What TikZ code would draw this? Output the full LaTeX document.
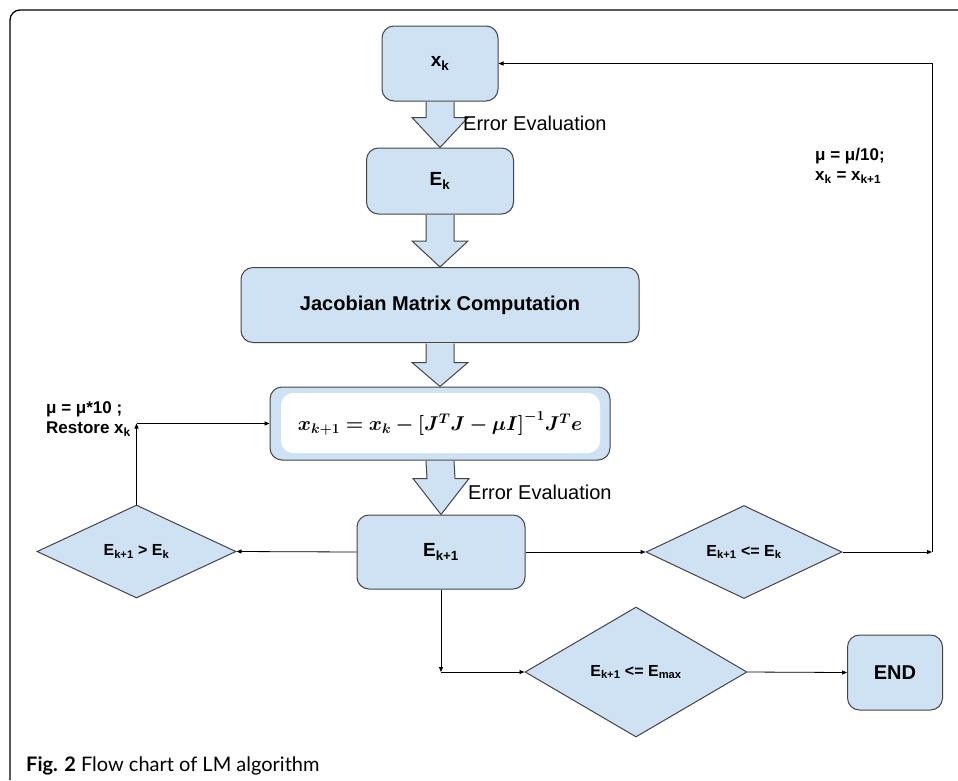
\documentclass[tikz,border=0pt]{standalone}
\usepackage{fontspec}
\usepackage{amsmath}
\usepackage{bm}
\usepackage{graphicx}
\usetikzlibrary{shapes.geometric,arrows.meta,calc}
\setmainfont{Liberation Sans}
\newfontfamily\capfont{Lato}
\definecolor{boxfill}{HTML}{CFE2F3}
\definecolor{boxline}{HTML}{444444}

\begin{document}
\begin{tikzpicture}[x=1pt,y=-1pt,
  box/.style={draw=boxline, fill=boxfill, line width=1pt, rounded corners=12pt, inner sep=0pt, font=\bfseries\fontsize{19}{23}\selectfont},
  decision/.style={diamond, draw=boxline, fill=boxfill, line width=1pt, inner sep=0pt, font=\bfseries\fontsize{16}{19}\selectfont},
  blockarrow/.style={draw=boxline, fill=boxfill, line width=1pt, line join=miter},
  link/.style={-{Triangle[length=5pt,width=4pt]}, line width=0.8pt},
  note/.style={font=\bfseries\fontsize{17}{20}\selectfont, align=left, inner sep=0pt},
  evallabel/.style={font=\fontsize{20}{24}\selectfont, anchor=west, inner sep=0pt}]

\useasboundingbox (0,0) rectangle (958,780);
\fill[white] (0,0) rectangle (958,780);

% frame of the figure
\draw[line width=1.3pt, rounded corners=10pt] (10,780) -- (10,10) -- (958,10);

% process boxes
\node[box, minimum width=116pt, minimum height=75pt] (xk) at (440,63.5) {x\textsubscript{k}};
\node[box, minimum width=147pt, minimum height=66pt] (ek) at (440,181) {E\textsubscript{k}};
\node[box, minimum width=398pt, minimum height=75pt, font=\bfseries\fontsize{20}{24}\selectfont] (jac) at (440,305) {Jacobian Matrix Computation};
\node[box, minimum width=340pt, minimum height=73pt,
  path picture={\fill[white] ($(path picture bounding box.north west)+(11,6)$) rectangle ($(path picture bounding box.south east)+(-10,-7)$);}]
  (upd) at (440,423.5) {\scalebox{0.965}{\fontsize{20}{24}\selectfont$\bm{x_{k+1} = x_k - [J^T J - \mu I]^{-1} J^T e}$}};
\node[box, minimum width=168pt, minimum height=74pt] (ekk) at (441,552) {E\textsubscript{k+1}};
\node[box, minimum width=95pt, minimum height=75pt, font=\bfseries\fontsize{20}{24}\selectfont] (end) at (895,672.5) {END};

% decisions
\node[decision, minimum width=199pt, minimum height=93pt] (dl) at (136.5,551.5) {E\textsubscript{k+1} > E\textsubscript{k}};
\node[decision, minimum width=196pt, minimum height=93pt] (dr) at (744,552) {E\textsubscript{k+1} <= E\textsubscript{k}};
\node[decision, minimum width=222pt, minimum height=130pt] (dmax) at (636,672) {E\textsubscript{k+1} <= E\textsubscript{max}};

% block arrows down the main column
\foreach \a/\b/\h in {xk/ek/30, ek/jac/26, jac/upd/24, upd/ekk/36}
  \draw[blockarrow] ($(\a.south)+(-14,0.5)$) -- ($(\b.north)+(-14,-\h)$) -- ($(\b.north)+(-28,-\h)$)
    -- (\b.north) -- ($(\b.north)+(28,-\h)$) -- ($(\b.north)+(14,-\h)$) -- ($(\a.south)+(14,0.5)$);

\node[evallabel] (ev1) at (463,123) {Error Evaluation};
\node[evallabel] (ev2) at (468,492) {Error Evaluation};

% notes
\node[note, anchor=west] (upnote) at (815,166) {μ = μ/10;\\x\textsubscript{k} = x\textsubscript{k+1}};
\node[note, anchor=west] (downnote) at (46,419) {μ = μ*10 ;\\Restore x\textsubscript{k}};

% connectors
\coordinate (rc) at (932,552);
\coordinate (lc) at (dl.north |- upd.west);
\coordinate (bc) at (ekk.south |- dmax.west);
\draw[link] (ekk.west) -- (dl.east);
\draw[link] (ekk.east) -- (dr.west);
\draw[link] (dr.east) -- (rc);
\draw[link] (rc) |- (xk.east);
\draw[link] (dl.north) -- (lc);
\draw[link] (lc) -- (upd.west);
\draw[link] (ekk.south) -- (bc);
\draw[link] (bc) -- (dmax.west);
\draw[link] (dmax.east) -- (end.west);

% caption
\node[anchor=west, inner sep=0pt, font=\capfont\fontsize{20}{24}\selectfont] (caption) at (26,766) {\textbf{Fig. 2} Flow chart of LM algorithm};
\end{tikzpicture}
\end{document}
